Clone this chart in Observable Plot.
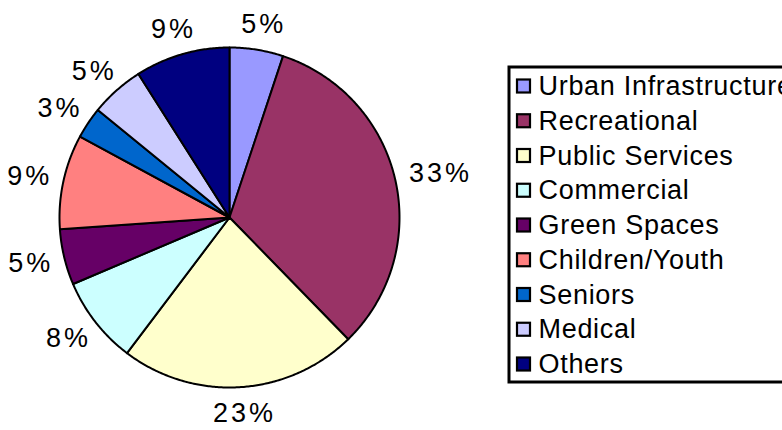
<!DOCTYPE html>
<html>
<head>
<meta charset="utf-8">
<script src="https://cdn.jsdelivr.net/npm/d3@7"></script>
<script src="https://cdn.jsdelivr.net/npm/@observablehq/plot@0.6"></script>
<style>
  html, body { margin: 0; padding: 0; background: #fff; overflow: hidden; }
  #chart svg { display: block; font-family: "Liberation Sans", Arial, sans-serif; }
  #chart svg .pct text { letter-spacing: 3px; }
  #chart svg .leg text { letter-spacing: 0.7px; }
</style>
</head>
<body>
<div id="chart"></div>
<script>
// ---- data ----
const categories = ["Urban Infrastructure", "Recreational", "Public Services", "Commercial", "Green Spaces", "Children/Youth", "Seniors", "Medical", "Others"];
const shares = [5.1, 32.6, 22.6, 8.3, 5.3, 9.0, 3.0, 5.1, 9.0];
const pctLabels = ["5%", "33%", "23%", "8%", "5%", "9%", "3%", "5%", "9%"];
const colors = ["#9999FF", "#993366", "#FFFFCC", "#CCFFFF", "#660066", "#FF8080", "#0066CC", "#CCCCFF", "#000080"];

// ---- layout ----
const W = 782, H = 430;
const cx = 229, cy = 217, R = 170, anchorR = 185;
const fs = 27, spacing = 3, halfH = 11;
const legX = 509, legTop = 67, legBottom = 382, rowFirst = 86, rowStep = 34.75;

const arcs = d3.pie().sort(null).value(d => d)(shares);

// slice polygons
const slicePts = [];
arcs.forEach((a, i) => {
  slicePts.push({cat: categories[i], x: cx, y: cy});
  const n = Math.max(4, Math.ceil((a.endAngle - a.startAngle) / (Math.PI / 360)));
  for (let k = 0; k <= n; k++) {
    const t = a.startAngle + (a.endAngle - a.startAngle) * k / n;
    slicePts.push({cat: categories[i], x: cx + R * Math.sin(t), y: cy - R * Math.cos(t)});
  }
});

// labels placed just outside the pie, pushed outward by half their box
const labelPts = arcs.map((a, i) => {
  const m = (a.startAngle + a.endAngle) / 2;
  const s = Math.sin(m), c = Math.cos(m);
  const txt = pctLabels[i];
  const digits = txt.length - 1;
  const halfW = (fs * (0.556 * digits + 0.889) + spacing * digits) / 2;
  return {
    text: txt,
    x: cx + anchorR * s + halfW * s + spacing / 2,
    y: cy - anchorR * c - halfH * c
  };
});

const legendRows = categories.map((c, i) => ({cat: c, y: rowFirst + i * rowStep}));

const plot = Plot.plot({
  width: W, height: H,
  margin: 0,
  x: {domain: [0, W], range: [0, W], axis: null},
  y: {domain: [0, H], range: [0, H], axis: null},
  color: {domain: categories, range: colors},
  style: {background: "white", fontFamily: "'Liberation Sans', Arial, sans-serif"},
  marks: [
    Plot.line(slicePts, {x: "x", y: "y", z: "cat", fill: "cat", stroke: "black", strokeWidth: 2, curve: "linear-closed", strokeLinejoin: "round"}),
    Plot.text(labelPts, {x: "x", y: "y", text: "text", fontSize: fs, fill: "black", className: "pct"}),
    Plot.rect([0], {x1: legX, x2: W + 20, y1: legTop, y2: legBottom, fill: "white", stroke: "black", strokeWidth: 3}),
    Plot.rect(legendRows, {x1: legX + 8, x2: legX + 21, y1: d => d.y - 6.5, y2: d => d.y + 6.5, fill: "cat", stroke: "black", strokeWidth: 2.2}),
    Plot.text(legendRows, {x: legX + 29, y: "y", text: "cat", textAnchor: "start", fontSize: fs, fill: "black", className: "leg"})
  ]
});
document.getElementById("chart").appendChild(plot);
</script>
</body>
</html>
